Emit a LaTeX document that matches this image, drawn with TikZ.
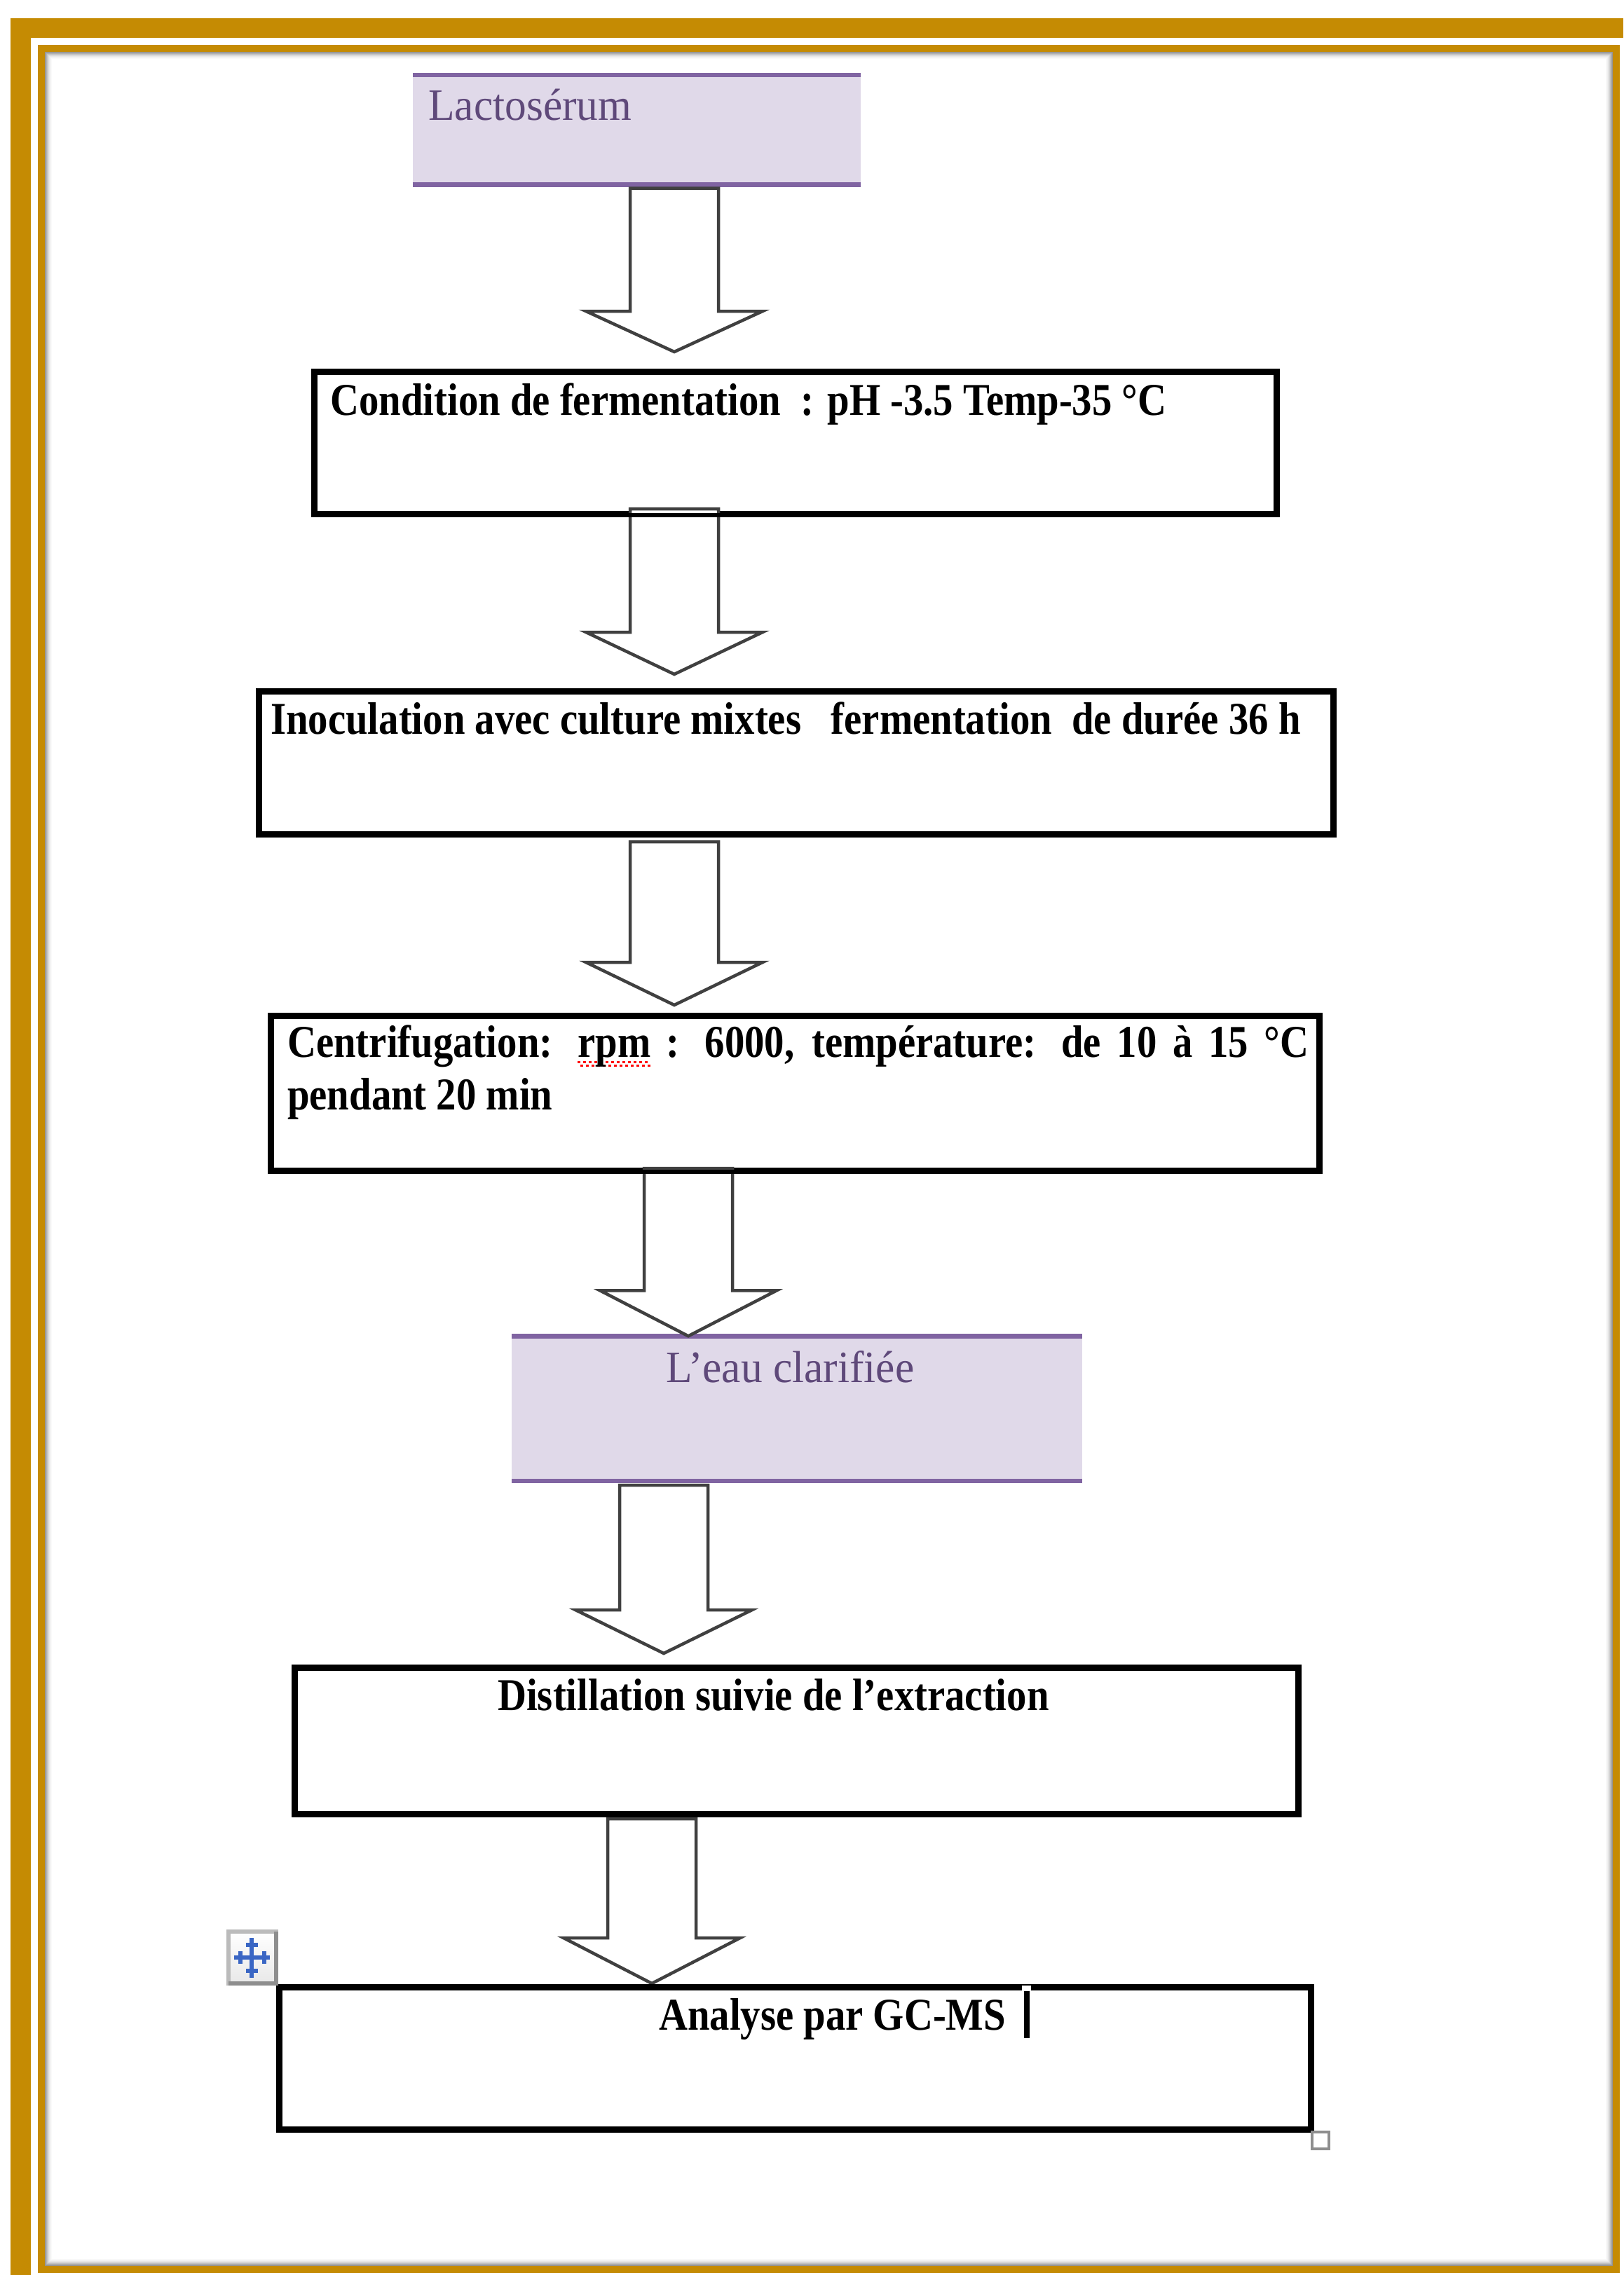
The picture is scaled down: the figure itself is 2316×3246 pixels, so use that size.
\documentclass[tikz,border=0pt]{standalone}
\usepackage{fontspec}
\setmainfont{Liberation Serif}
\newfontfamily\blkfont{Liberation Serif}[FakeStretch=0.873]
\newfontfamily\purfont{Liberation Serif}[FakeStretch=0.96]
\usetikzlibrary{calc}
\definecolor{gold}{HTML}{C58B03}
\definecolor{lavfill}{HTML}{E0D9E9}
\definecolor{lavline}{HTML}{8064A2}
\definecolor{purtext}{HTML}{5F497A}
\definecolor{arrowgray}{HTML}{404040}
\definecolor{iconblue}{HTML}{3A66C4}
\definecolor{iconlight}{HTML}{BBBBBB}
\definecolor{icondark}{HTML}{8E8E8E}
\newcommand\spellmark[1]{\setbox0\hbox{#1}\rlap{\color{red}\hbox to \wd0{\xleaders\hbox to 8pt{\rule[-9pt]{4pt}{3pt}\rule[-14pt]{4pt}{3pt}}\hfill}}\box0\relax}
\newcommand\blockarrow[3]{%
  \path[barrow] let \p1=#1, \p2=#2 in
   (\x1-63pt,\y1) -- (\x1+63pt,\y1) -- (\x1+63pt,\y2+#3) -- (\x1+126pt,\y2+#3)
   -- (\x1,\y2) -- (\x1-126pt,\y2+#3) -- (\x1-63pt,\y2+#3) -- cycle;}
\tikzset{
  blackbox/.style={draw=black, line width=6pt, rectangle, inner sep=0pt},
  lavbox/.style={fill=lavfill, rectangle, inner sep=0pt},
  lavedge/.style={draw=lavline, line width=6.5pt},
  blktext/.style={anchor=base west, inner sep=0pt, font=\blkfont\bfseries\fontsize{65}{75}\selectfont},
  purtextst/.style={anchor=base west, inner sep=0pt, text=purtext, font=\purfont\fontsize{64}{75}\selectfont},
  barrow/.style={draw=arrowgray, fill=white, line width=4.5pt, line join=miter},
}
\begin{document}
\begin{tikzpicture}[x=1pt,y=-1pt]
\useasboundingbox (0,0) rectangle (2316,3246);
\fill[white] (0,0) rectangle (2316,3246);
% page frame
\fill[gold] (15,26) rectangle (2316,3246);
\fill[white] (44,54) rectangle (2316,3246);
\fill[gold] (54,64) rectangle (2311,3243);
\fill[white] (64,74) rectangle (2301,3233);
\foreach \i/\o in {0.5/0.42,1.5/0.36,2.5/0.3,3.5/0.24,4.5/0.18,5.5/0.13,6.5/0.09,7.5/0.06,8.5/0.04,9.5/0.02}
  \draw[black, opacity=\o, line width=1pt] (64+\i,74+\i) rectangle (2301-\i,3233-\i);

% arrow axes
\coordinate (a1) at (962,0);
\coordinate (a4) at (982,0);
\coordinate (a5) at (947,0);
\coordinate (a6) at (930,0);

% lavender boxes
\node[lavbox, minimum width=639pt, minimum height=156.5pt] (lac) at (908.5,185.25) {};
\draw[lavedge] (lac.north west) -- (lac.north east);
\draw[lavedge] (lac.south west) -- (lac.south east);
\node[lavbox, minimum width=814pt, minimum height=206.5pt] (eau) at (1137,2009.75) {};
\draw[lavedge] (eau.north west) -- (eau.north east);
\draw[lavedge] (eau.south west) -- (eau.south east);

% black boxes (shapes only, outlines redrawn after arrows)
\path node[blackbox, minimum width=1370pt, minimum height=200pt] (b1) at (1135,632) {}
      node[blackbox, minimum width=1530pt, minimum height=201pt] (b2) at (1136,1088.5) {}
      node[blackbox, minimum width=1493pt, minimum height=218pt] (b3) at (1134.5,1560) {}
      node[blackbox, minimum width=1429pt, minimum height=206pt] (b4) at (1136.5,2484) {}
      node[blackbox, minimum width=1469pt, minimum height=200pt] (b5) at (1134.5,2937) {};

% block arrows
\blockarrow{($(lac.south -| a1)+(0,5)$)}{($(b1.north -| a1)+(0,-27)$)}{58pt}
\blockarrow{($(b1.south -| a1)+(0,-9)$)}{($(b2.north -| a1)+(0,-23)$)}{60pt}
\blockarrow{($(b2.south -| a1)+(0,9)$)}{($(b3.north -| a1)+(0,-14)$)}{61pt}
\blockarrow{($(b3.south -| a4)+(0,-5)$)}{(eau.north -| a4)}{65pt}
\blockarrow{($(eau.south -| a5)+(0,6)$)}{($(b4.north -| a5)+(0,-19)$)}{62pt}
\blockarrow{($(b4.south -| a6)+(0,5)$)}{($(b5.north -| a6)+(0,-4)$)}{65pt}

% redraw black box outlines on top
\foreach \b in {b1,b2,b3,b4,b5}
  \draw[black, line width=6pt] (\b.north west) rectangle (\b.south east);

% texts
\node[purtextst] (tlac) at (611,172) {Lactosérum};
\node[blktext] (t1) at (471,592) {Condition de fermentation\ \ : pH -3.5 Temp-35 °C};
\node[blktext] (t2) at (386,1047) {Inoculation avec culture mixtes\ \ \ fermentation\ \ de durée 36 h};
\node[blktext] (t3) at (410,1508) {\makebox[1457pt][s]{Centrifugation: \spellmark{rpm} : 6000, température: de 10 à 15 °C}};
\node[blktext] (t3b) at (410,1583) {pendant 20 min};
\node[purtextst] (teau) at (950,1972) {L’eau clarifiée};
\node[blktext] (t4) at (710,2440) {Distillation suivie de l’extraction};
\node[blktext] (t5) at (940,2896) {Analyse par GC-MS};

% text cursor
\fill[white] (1458,2833) rectangle (1471,2841);
\fill[black] (1461,2841) rectangle (1469,2908);

% table move handle
\shade[top color=white, bottom color=black!9] (326,2756) rectangle (394,2830);
\fill[iconlight] (323,2753) rectangle (397,2759);
\fill[iconlight] (323,2753) rectangle (329,2833);
\fill[icondark] (391,2756) rectangle (397,2833);
\fill[icondark] (326,2827) rectangle (397,2833);
\fill[iconblue] (356,2765) rectangle (362,2822);
\fill[iconblue] (334,2790) rectangle (385,2796);
\fill[iconblue] (351,2772) rectangle (368,2778);
\fill[iconblue] (351,2809) rectangle (368,2815);
\fill[iconblue] (340,2784) rectangle (346,2802);
\fill[iconblue] (374,2784) rectangle (380,2802);

% resize handle
\draw[icondark, line width=4pt, fill=white] (1872,3042) rectangle (1896,3066);
\end{tikzpicture}
\end{document}
